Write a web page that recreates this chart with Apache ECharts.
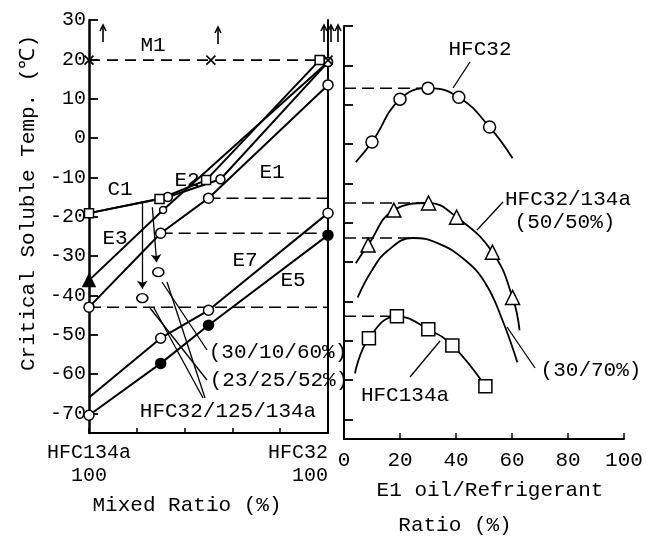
<!DOCTYPE html>
<html><head><meta charset="utf-8">
<script src="https://cdn.jsdelivr.net/npm/echarts@6/dist/echarts.min.js"></script>
<style>html,body{margin:0;padding:0;background:#fff}#c{width:647px;height:539px}</style>
</head><body><div id="c"></div>
<script>
// ===== data =====
const yTicks = [30,20,10,0,-10,-20,-30,-40,-50,-60,-70];
const mixTicks = [0,20,40,60,80,100];
const mixEndLabels = {0:'HFC134a\n100', 100:'HFC32\n100'};
const ratioTicks = [0,20,40,60,80,100];

// left panel: x = HFC32 share (%), y = critical soluble temp (℃)
const e1X = [0,30,50,100];      const e1Y = [-43,-24.2,-15.3,13.5];
const e7X = [0,30,50,100];      const e7Y = [-66,-50.9,-43.8,-19.1];
const e5X = [0,30,50,100];      const e5Y = [-70.5,-57.3,-47.6,-24.7];
const e3X = [0,31,100];         const e3Y = [-36.2,-18.3,19.3];
const c1X = [0,33,55,100];      const c1Y = [-19.1,-15,-10.5,19.3];
const e2X = [0,29.5,49,96.5];   const e2Y = [-19.1,-15.5,-10.7,19.8];
const m1X = [0,51,100];         const m1Y = [19.8,19.8,19.8];
const ternX = [29,22.3];        const ternY = [-34.1,-40.7];   // (30/10/60%), (23/25/52%)
const arrowFrom = [[22.3,-16.3],[26.5,-17.6]];
const arrowTo   = [[22.3,-38.3],[28.3,-31.6]];

// right panel: x = E1 oil / refrigerant ratio (%)
const hfc32X = [10,20,30,41,52];         const hfc32Y = [0.5,11.4,14.2,11.9,4.3];
const hfc32Start = [4.2,-4.6];           const hfc32End = [60.2,-3.6];
const mix5050X = [8.6,17.8,30.2,40.2,53,60.2]; const mix5050Y = [-25.7,-16.8,-15,-18.6,-27.5,-39];
const mix5050Start = [4.2,-30.3];        const mix5050End = [62.7,-47.4];
const mix3070X = [4.9,10,15.8,24.5,33.4,43.2,50.5,56.6,61.9];
const mix3070Y = [-39,-32.1,-27,-23.9,-25.2,-29.5,-35.4,-44.8,-55.5];
const hfc134aX = [8.9,18.9,30.1,38.7,50.5];  const hfc134aY = [-49.4,-43.8,-47.1,-51.2,-61.6];
const hfc134aStart = [3.9,-58.3];

// ===== helpers =====
const FONT = '"Liberation Mono","DejaVu Sans Mono",monospace';
const K = '#000';
const pts = (xs, ys) => xs.map((x,i)=>[x, ys[i]]);
const openStyle = {color:'#fff', borderColor:K, borderWidth:1.5, opacity:1};
function lineS(name, data, o) {
  return Object.assign({
    type:'line', name, xAxisIndex:0, yAxisIndex:0, data,
    symbol:'circle', symbolSize:9, showSymbol:true,
    itemStyle:openStyle, lineStyle:{color:K, width:2},
    emphasis:{disabled:true}, animation:false, z:3
  }, o || {});
}
function curveS(name, data) {
  return {type:'line', name, xAxisIndex:1, yAxisIndex:1, data, smooth:0.45,
    symbol:'none', lineStyle:{color:K, width:1.8}, emphasis:{disabled:true}, animation:false, z:2};
}
function markS(name, data, symbol, size) {
  return {type:'scatter', name, xAxisIndex:1, yAxisIndex:1, data, symbol, symbolSize:size,
    itemStyle:openStyle, emphasis:{disabled:true}, animation:false, z:4};
}
function dashS(g, x1, x2, y) {
  return {type:'line', xAxisIndex:g, yAxisIndex:g, data:[[x1,y],[x2,y]], symbol:'none',
    lineStyle:{color:K, width:1.5, type:[12,6]}, emphasis:{disabled:true}, animation:false, z:1};
}
const peak = (xs, ys) => { let k = 0; ys.forEach((v,i)=>{ if (v > ys[k]) k = i; }); return [xs[k], ys[k]]; };

// ===== series =====
const series = [];
series.push(lineS('E1', pts(e1X,e1Y), {symbolSize:10}));
series.push(lineS('E7', pts(e7X,e7Y).map((p,i)=> i===0 ? {value:p, symbol:'none'} : {value:p}), {symbolSize:10}));
series.push(lineS('E5', pts(e5X,e5Y).map((p,i)=> i===0 ? {value:p} : {value:p, itemStyle:{color:K}}), {symbolSize:10}));
series.push(lineS('E3', pts(e3X,e3Y).map((p,i)=> i===0 ? {value:p, symbol:'triangle', symbolSize:12, itemStyle:{color:K}} : {value:p, symbolSize:i===1?7:9})));
series.push(lineS('C1', pts(c1X,c1Y)));
series.push(lineS('E2', pts(e2X,e2Y), {symbol:'rect', symbolSize:9}));
series.push(lineS('M1', pts(m1X,m1Y), {symbol:'path://M0,0L10,10M10,0L0,10', symbolSize:9,
  itemStyle:{color:'none', borderColor:K, borderWidth:1.6}, lineStyle:{color:K, width:1.8, type:[11,7]}}));
series.push({type:'scatter', name:'HFC32/125/134a', xAxisIndex:0, yAxisIndex:0, data:pts(ternX,ternY),
  symbol:'circle', symbolSize:[11,9], itemStyle:openStyle, emphasis:{disabled:true}, animation:false, z:4,
  markLine:{silent:true, animation:false, symbol:['none','arrow'], symbolSize:8, label:{show:false},
    lineStyle:{color:K, width:1.3, type:'solid'},
    data: arrowFrom.map((a,i)=>[{coord:a}, {coord:arrowTo[i], lineStyle:{curveness: i===1 ? 0.35 : 0}}])}});

// connectors E1 (left) -> peaks (right)
const peaks = [peak(hfc134aX,hfc134aY), peak(mix3070X,mix3070Y), peak(mix5050X,mix5050Y), peak(hfc32X,hfc32Y)];
e1X.forEach((x,i)=>{ if (x < 100) series.push(dashS(0, x, 100, e1Y[i])); });
peaks.forEach(p => series.push(dashS(1, 0, p[0], p[1])));

series.push(curveS('HFC32', [hfc32Start, ...pts(hfc32X,hfc32Y), hfc32End]));
series.push(markS('HFC32 pts', pts(hfc32X,hfc32Y), 'circle', 12));
series.push(curveS('HFC32/134a (50/50%)', [mix5050Start, ...pts(mix5050X,mix5050Y), mix5050End]));
series.push(markS('50/50 pts', pts(mix5050X,mix5050Y), 'triangle', 14));
series.push(curveS('(30/70%)', pts(mix3070X,mix3070Y)));
series.push(curveS('HFC134a', [hfc134aStart, ...pts(hfc134aX,hfc134aY)]));
series.push(markS('HFC134a pts', pts(hfc134aX,hfc134aY), 'rect', 13));

// ===== annotations =====
const T = (text, x, y, o) => Object.assign({type:'text', x, y, z:10,
  style:{text, fill:K, font:`21px ${FONT}`, textAlign:'center', textVerticalAlign:'middle'}}, o || {});
const L = (x1,y1,x2,y2) => ({type:'line', z:9, shape:{x1,y1,x2,y2}, style:{stroke:K, lineWidth:1.3}});
const up = (x, y) => ({type:'group', z:9, children:[
  {type:'line', shape:{x1:x, y1:y+17, x2:x, y2:y}, style:{stroke:K, lineWidth:1.6}},
  {type:'polyline', shape:{points:[[x-3,y+6],[x,y],[x+3,y+6]]}, style:{stroke:K, lineWidth:1.6, fill:null}}]});

const graphic = [
  T('Critical Soluble Temp. (℃)', 28, 203, {rotation: Math.PI/2}),
  T('Mixed Ratio (%)', 187, 505),
  T('E1 oil/Refrigerant', 490, 490),
  T('Ratio (%)', 455, 525),
  T('M1', 153, 45), T('C1', 120, 189), T('E2', 187, 180), T('E1', 272, 172),
  T('E3', 115, 238), T('E7', 245, 260), T('E5', 293, 280),
  T('(30/10/60%)', 278, 352), T('(23/25/52%)', 279, 380), T('HFC32/125/134a', 228, 411),
  T('HFC32', 480, 49), T('HFC32/134a', 568, 199), T('(50/50%)', 565, 222),
  T('(30/70%)', 591, 370), T('HFC134a', 405, 395),
  L(470,62,453,88), L(503,202,477,230), L(535,368,507,327), L(410,377,440,341),
  L(162,282,207,350), L(167,282,205,398), L(150,308,207,380), L(154,308,203,398),
  up(103,25), up(218,27), up(324,25), up(331,25), up(338,25)
];

// ===== chart =====
const chart = echarts.init(document.getElementById('c'), null, {renderer:'canvas'});
const axisLine = w => ({show:true, onZero:false, lineStyle:{color:K, width:w}});
chart.setOption({
  backgroundColor:'#fff',
  animation:false,
  grid:[
    {left:89, top:20, width:239, height:413},
    {left:344, top:26, width:280, height:413}
  ],
  xAxis:[
    {gridIndex:0, type:'value', min:0, max:100, interval:20, axisLine:axisLine(2),
      axisTick:{show:true, inside:true, length:5, customValues:mixTicks, lineStyle:{color:K, width:1.5}},
      axisLabel:{customValues:[0,100], formatter:v=>mixEndLabels[v] || '', color:K,
        fontFamily:FONT, fontSize:20, lineHeight:23, margin:8, alignMinLabel:'center', alignMaxLabel:'right'},
      splitLine:{show:false}},
    {gridIndex:1, type:'value', min:0, max:100, interval:20, axisLine:axisLine(2),
      axisTick:{show:true, inside:true, length:6, customValues:ratioTicks, lineStyle:{color:K, width:1.5}},
      axisLabel:{customValues:ratioTicks, color:K, fontFamily:FONT, fontSize:21, margin:11},
      splitLine:{show:false}}
  ],
  yAxis:[
    {gridIndex:0, type:'value', min:-75, max:30, axisLine:axisLine(2.5),
      axisTick:{show:true, inside:true, length:9, customValues:yTicks, lineStyle:{color:K, width:1.8}},
      axisLabel:{customValues:yTicks, color:K, fontFamily:FONT, fontSize:20, margin:3},
      splitLine:{show:false}},
    {gridIndex:1, type:'value', min:-75, max:30, axisLine:axisLine(2),
      axisTick:{show:true, inside:true, length:9, customValues:yTicks, lineStyle:{color:K, width:1.8}},
      axisLabel:{show:false}, splitLine:{show:false}},
    {gridIndex:0, type:'value', position:'right', min:-75, max:30, axisLine:axisLine(2),
      axisTick:{show:false}, axisLabel:{show:false}, splitLine:{show:false}}
  ],
  series,
  graphic
});
</script></body></html>
